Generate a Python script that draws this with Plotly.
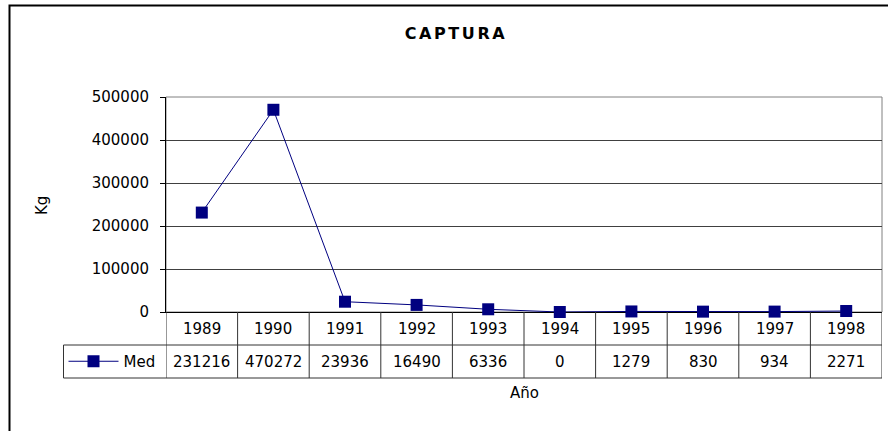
import plotly.graph_objects as go

years = ["1989", "1990", "1991", "1992", "1993", "1994", "1995", "1996", "1997", "1998"]
med = [231216, 470272, 23936, 16490, 6336, 0, 1279, 830, 934, 2271]
series_name = "Med"
y_ticks = [0, 100000, 200000, 300000, 400000, 500000]

W, H = 888, 431
PL, PR, PT, PB = 166, 882, 97, 312          # plot area in pixels
L, R, T, B = PL, W - PR, PT, H - PB
pw, ph = PR - PL, PB - PT

def px(xpix):
    return (xpix - PL) / pw

def py(ypix):
    return (PB - ypix) / ph

FONT = "DejaVu Sans"
NAVY = "#000080"
TABLE_LINE = "#333333"

fig = go.Figure()
fig.add_trace(go.Scatter(
    x=years, y=med, name=series_name, mode="lines+markers",
    line=dict(color=NAVY, width=1),
    marker=dict(symbol="square", size=12, color=NAVY),
    cliponaxis=False, showlegend=True,
))

shapes = []
annotations = []

# outer chart border
shapes.append(dict(type="rect", xref="paper", yref="paper",
                   x0=px(9.5), x1=px(905), y0=py(445), y1=py(5.5),
                   line=dict(color="black", width=2), layer="below"))
# plot area border (gray)
shapes.append(dict(type="rect", xref="paper", yref="paper",
                   x0=0, x1=1, y0=0, y1=1,
                   line=dict(color="#808080", width=1), layer="below"))

row1_bot = py(345)
row2_bot = py(378)
leg_left = px(63.5)

# table vertical lines at category boundaries
for i in range(len(years) + 1):
    shapes.append(dict(type="line", xref="x", yref="paper",
                       x0=i - 0.5, x1=i - 0.5, y0=row2_bot, y1=0,
                       line=dict(color=TABLE_LINE, width=1)))
# horizontal table lines
for yy in (row1_bot, row2_bot):
    shapes.append(dict(type="line", xref="paper", yref="paper",
                       x0=leg_left, x1=1, y0=yy, y1=yy,
                       line=dict(color=TABLE_LINE, width=1)))
# legend cell left border
shapes.append(dict(type="line", xref="paper", yref="paper",
                   x0=leg_left, x1=leg_left, y0=row2_bot, y1=row1_bot,
                   line=dict(color=TABLE_LINE, width=1)))

tfont = dict(family=FONT, size=15, color="black")
for i, (yr, v) in enumerate(zip(years, med)):
    annotations.append(dict(x=i, xref="x", y=(0 + row1_bot) / 2, yref="paper",
                            text=yr, showarrow=False, font=tfont,
                            xanchor="center", yanchor="middle"))
    annotations.append(dict(x=i, xref="x", y=(row1_bot + row2_bot) / 2, yref="paper",
                            text=str(v), showarrow=False, font=tfont,
                            xanchor="center", yanchor="middle"))

# axis titles
annotations.append(dict(x=px(42), y=py(205), xref="paper", yref="paper",
                        text="Kg", textangle=-90, showarrow=False, font=tfont,
                        xanchor="center", yanchor="middle"))
annotations.append(dict(x=px(524), y=py(393), xref="paper", yref="paper",
                        text="Año", showarrow=False, font=tfont,
                        xanchor="center", yanchor="middle"))

fig.update_layout(
    width=W, height=H,
    margin=dict(l=L, r=R, t=T, b=B, autoexpand=False),
    paper_bgcolor="white", plot_bgcolor="white",
    font=dict(family=FONT, size=15, color="black"),
    title=dict(text='<b><span style="letter-spacing:2.6px">CAPTURA</span></b>',
               x=456 / W, xanchor="center", y=1 - 33 / H, yanchor="middle",
               font=dict(family=FONT, size=16, color="black")),
    xaxis=dict(type="category", categoryorder="array", categoryarray=years,
               range=[-0.5, len(years) - 0.5], showticklabels=False, ticks="",
               showgrid=False, zeroline=False, showline=True,
               linecolor="black", linewidth=1, layer="below traces"),
    yaxis=dict(range=[0, 500000], tickvals=y_ticks, tickformat="d",
               showgrid=True, gridcolor="#404040", gridwidth=1,
               zeroline=False, showline=True, linecolor="black", linewidth=1,
               ticks="outside", ticklen=5, tickcolor="black",
               ticklabelstandoff=8, layer="below traces",
               tickfont=dict(family=FONT, size=15, color="black")),
    showlegend=True,
    legend=dict(x=leg_left, y=(row1_bot + row2_bot) / 2, xanchor="left",
                yanchor="middle", bgcolor="rgba(0,0,0,0)", borderwidth=0,
                itemwidth=50, font=dict(family=FONT, size=15, color="black"),
                tracegroupgap=0),
    shapes=shapes, annotations=annotations,
)

fig.write_html("out.html", config={"displayModeBar": False},
               post_script="document.body.style.margin='0';document.body.style.overflow='hidden';")
